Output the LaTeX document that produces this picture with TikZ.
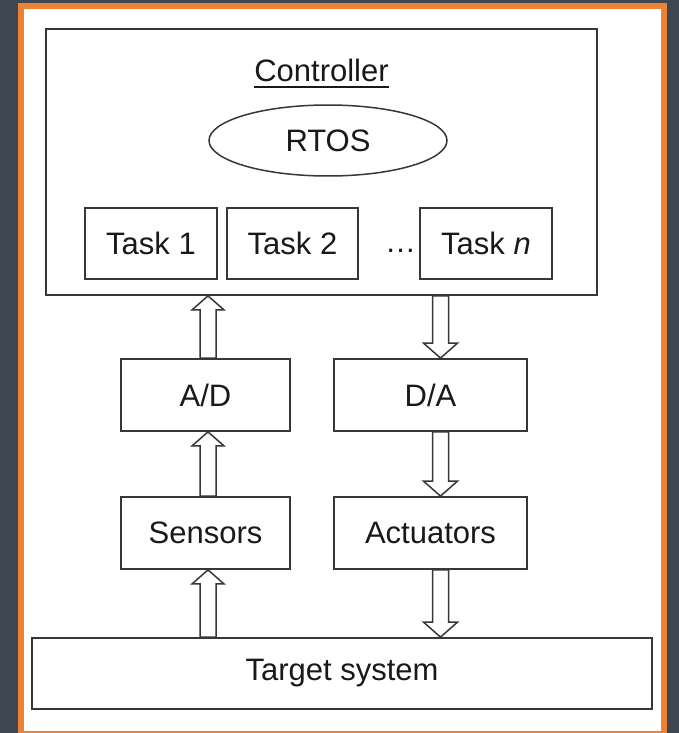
\documentclass[tikz,border=0pt]{standalone}
\usepackage{fontspec}
\setmainfont{Liberation Sans}
\usetikzlibrary{calc,shapes.geometric}
\definecolor{slate}{RGB}{61,70,81}
\definecolor{frameorange}{RGB}{238,130,50}
\definecolor{ln}{RGB}{55,55,55}
\definecolor{txt}{RGB}{25,25,25}
\newcommand\upblk[2]{\draw[blk] let \p1=(#1), \p2=(#2) in
  (\x1-8pt,\y1) -- (\x1-8pt,\y2-14pt) -- (\x1-16pt,\y2-14pt) -- (\x2,\y2)
  -- (\x1+16pt,\y2-14pt) -- (\x1+8pt,\y2-14pt) -- (\x1+8pt,\y1) -- cycle;}
\newcommand\downblk[2]{\draw[blk] let \p1=(#1), \p2=(#2) in
  (\x1-8pt,\y1) -- (\x1-8pt,\y2+15pt) -- (\x1-17pt,\y2+15pt) -- (\x2,\y2)
  -- (\x1+17pt,\y2+15pt) -- (\x1+8pt,\y2+15pt) -- (\x1+8pt,\y1) -- cycle;}
\begin{document}
\begin{tikzpicture}[x=1pt,y=-1pt,
  box/.style={draw=ln,line width=1.8pt,inner sep=0pt,minimum height=71pt,
    text=txt,font=\fontsize{31}{36}\selectfont},
  lbl/.style={inner sep=0pt,text=txt,font=\fontsize{31}{36}\selectfont},
  blk/.style={draw=ln,line width=1.5pt,fill=white,line join=miter}]
\fill[slate] (0,0) rectangle (679,733);
\useasboundingbox (0,0) rectangle (679,733);
\fill[frameorange] (18,3) rectangle (667,733);
\fill[white] (24,9) rectangle (661,731);

% controller
\node[box,minimum width=551pt,minimum height=266pt] (ctrl) at (321.5,162) {};
\node[lbl,anchor=base] (ctitle) at (321.5,82) {Controller};
\draw[draw=txt,line width=1.8pt] ($(ctitle.base west)+(0,5)$) -- ($(ctitle.base east)+(0,5)$);
\node[box,ellipse,minimum width=238pt,minimum height=71pt,line width=1.5pt] (rtos) at (328,140.5) {RTOS};
\node[box,minimum width=132pt] (t1) at (151,243.5) {Task 1};
\node[box,minimum width=131pt] (t2) at (292.5,243.5) {Task 2};
\node[box,minimum width=132pt] (tn) at (486,243.5) {Task \textit{n}};
\node[lbl,anchor=base] (dots) at (400.5,252) {…};

% converters
\node[box,minimum width=169pt,minimum height=72pt] (ad) at (205.5,395) {A/D};
\node[box,minimum width=193pt,minimum height=72pt] (da) at (430.5,395) {D/A};
\node[box,minimum width=169pt,minimum height=72pt] (sens) at (205.5,533) {Sensors};
\node[box,minimum width=193pt,minimum height=72pt] (act) at (430.5,533) {Actuators};
\node[box,minimum width=620pt] (tgt) at (342,673.5) {Target system};

\coordinate (L) at (208,0);
\coordinate (R) at (440.5,0);

\upblk{ad.north -| L}{ctrl.south -| L}
\upblk{sens.north -| L}{ad.south -| L}
\upblk{tgt.north -| L}{sens.south -| L}
\downblk{ctrl.south -| R}{da.north -| R}
\downblk{da.south -| R}{act.north -| R}
\downblk{act.south -| R}{tgt.north -| R}
\end{tikzpicture}
\end{document}
